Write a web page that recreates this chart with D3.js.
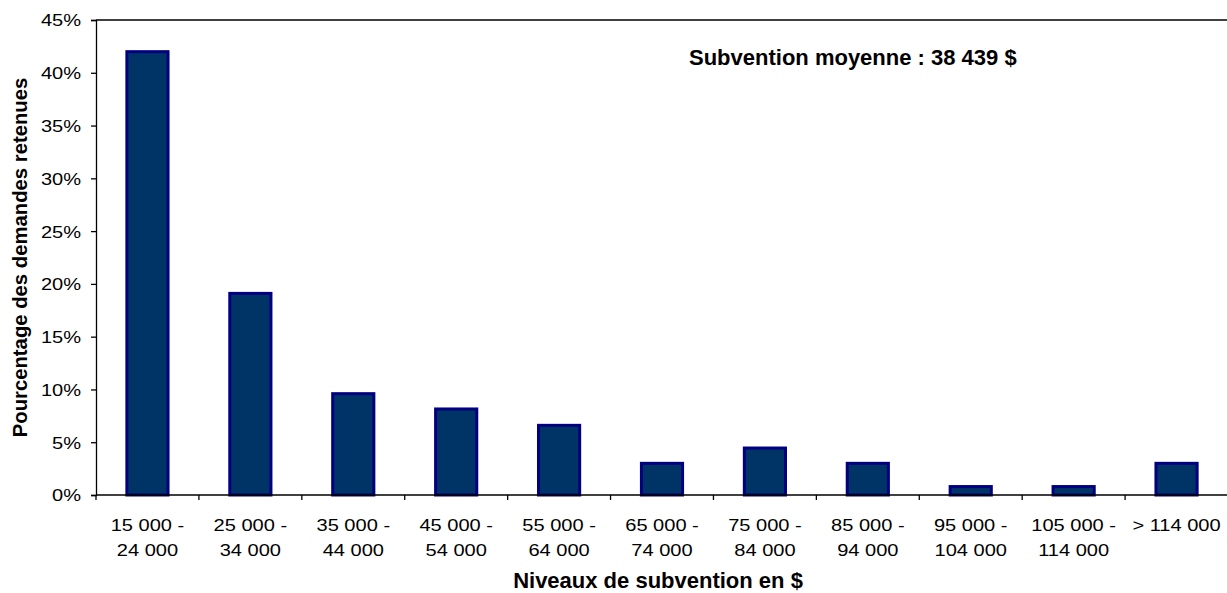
<!DOCTYPE html>
<html>
<head>
<meta charset="utf-8">
<script src="https://cdn.jsdelivr.net/npm/d3@7"></script>
<style>
  html, body { margin: 0; padding: 0; background: #fff; }
  svg { display: block; font-family: "Liberation Sans", Arial, sans-serif; }
</style>
</head>
<body>
<svg id="chart" width="1227" height="593"></svg>
<script>
// ---- data ----
const categories = ["c1","c2","c3","c4","c5","c6","c7","c8","c9","c10","c11"];
const labelLine1 = ["15 000 -","25 000 -","35 000 -","45 000 -","55 000 -","65 000 -","75 000 -","85 000 -","95 000 -","105 000 -","> 114 000"];
const labelLine2 = ["24 000","34 000","44 000","54 000","64 000","74 000","84 000","94 000","104 000","114 000",""];
const values = [42.0, 19.1, 9.6, 8.15, 6.6, 3.0, 4.45, 3.0, 0.8, 0.8, 3.0];
const yTicks = [0,5,10,15,20,25,30,35,40,45];
const yTitle = "Pourcentage des demandes retenues";
const xTitle = "Niveaux de subvention en $";
const note = "Subvention moyenne : 38 439 $";

// ---- layout ----
const mLeft = 96, mRight = 1228, mTop = 20, mBottom = 495;
const sx = 1.18; // horizontal stretch of regular text

const svg = d3.select("#chart");

const x = d3.scaleBand().domain(categories).range([mLeft, mRight]).paddingInner(0.6).paddingOuter(0.3);
const y = d3.scaleLinear().domain([0, 45]).range([mBottom, mTop]);

// bars
svg.append("g").selectAll("rect").data(values).join("rect")
  .attr("x", (d,i) => x(categories[i]))
  .attr("y", d => y(d))
  .attr("width", x.bandwidth())
  .attr("height", d => y(0) - y(d))
  .attr("fill", "#003366")
  .attr("stroke", "#000080")
  .attr("stroke-width", 3);

// top border
svg.append("line")
  .attr("x1", mLeft).attr("x2", 1227)
  .attr("y1", y(45)).attr("y2", y(45))
  .attr("stroke", "#000").attr("stroke-width", 1.3);

// y axis
const yAxis = svg.append("g").attr("transform", `translate(${mLeft},0)`)
  .call(d3.axisLeft(y).tickValues(yTicks).tickSize(5).tickFormat(d => d + "%"));
yAxis.select(".domain").attr("stroke", "#000").attr("stroke-width", 1.3);
yAxis.selectAll(".tick line").attr("stroke", "#000").attr("stroke-width", 1.3);
yAxis.selectAll(".tick text")
  .attr("x", -15 / sx)
  .attr("dy", "0.35em")
  .attr("transform", `scale(${sx},1)`)
  .attr("font-size", 17)
  .attr("font-family", "Liberation Sans, Arial, sans-serif")
  .attr("fill", "#000");

// x axis line
svg.append("line")
  .attr("x1", mLeft).attr("x2", 1227)
  .attr("y1", y(0)).attr("y2", y(0))
  .attr("stroke", "#000").attr("stroke-width", 1.3);

// boundary ticks
const step = x.step();
const x0 = x.range()[0];
svg.append("g").selectAll("line").data(d3.range(categories.length + 1)).join("line")
  .attr("x1", i => x0 + i * step).attr("x2", i => x0 + i * step)
  .attr("y1", y(0)).attr("y2", y(0) + 5)
  .attr("stroke", "#000").attr("stroke-width", 1.3);

// x labels
const xl = svg.append("g").selectAll("g").data(categories).join("g")
  .attr("transform", d => `translate(${x(d) + x.bandwidth()/2},0)`);
const xt = xl.append("text")
  .attr("transform", `scale(${sx},1)`)
  .attr("text-anchor", "middle")
  .attr("font-size", 17)
  .attr("fill", "#000");
xt.append("tspan").attr("x", 0).attr("y", 531).text((d,i) => labelLine1[i]);
xt.append("tspan").attr("x", 0).attr("y", 556).text((d,i) => labelLine2[i]);

// titles
svg.append("text")
  .attr("x", (mLeft + mRight) / 2 - 4).attr("y", 588)
  .attr("text-anchor", "middle")
  .attr("font-weight", "bold").attr("font-size", 22)
  .text(xTitle);

svg.append("text")
  .attr("transform", `translate(27,${(mTop + mBottom) / 2}) rotate(-90)`)
  .attr("text-anchor", "middle")
  .attr("font-weight", "bold").attr("font-size", 20.3)
  .text(yTitle);

svg.append("text")
  .attr("x", 689).attr("y", 65)
  .attr("font-weight", "bold").attr("font-size", 22)
  .text(note);
</script>
</body>
</html>
